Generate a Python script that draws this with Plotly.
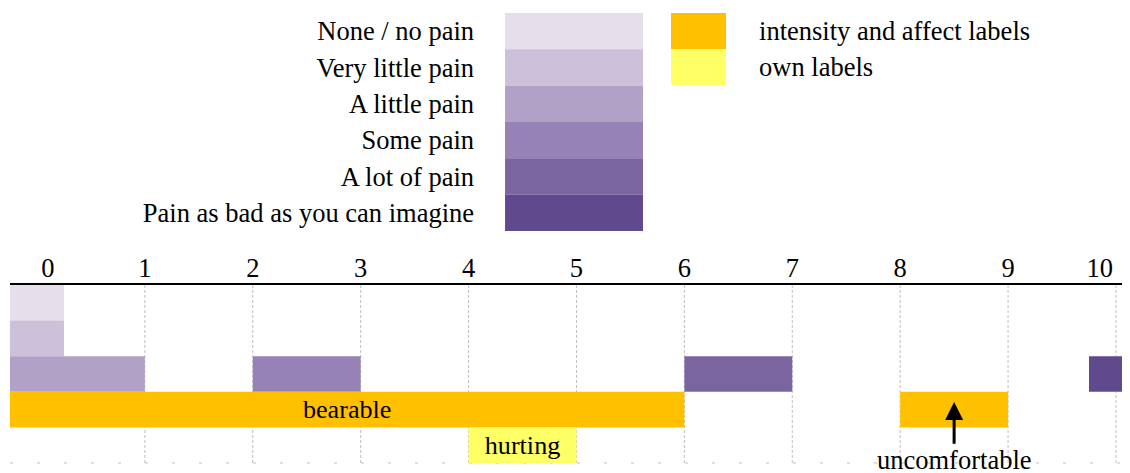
import plotly.graph_objects as go

# ── Style ────────────────────────────────────────────────────────────────────
FONT = 'Liberation Serif, Times New Roman, serif'
FS = 26.5
GRID = '#bfbfbf'

# ── Legend: pain scale ───────────────────────────────────────────────────────
PAIN_LABELS = ['None / no pain', 'Very little pain', 'A little pain',
               'Some pain', 'A lot of pain', 'Pain as bad as you can imagine']
PAIN_COLORS = ['#e5dfec', '#ccc0da', '#b2a1c7', '#9782b5', '#7b65a1', '#604a8d']

# ── Legend: label source ─────────────────────────────────────────────────────
KEY_LABELS = ['intensity and affect labels', 'own labels']
KEY_COLORS = ['#ffc000', '#ffff66']

# ── Scale axis ───────────────────────────────────────────────────────────────
TICK_TEXT = ['0', '1', '2', '3', '4', '5', '6', '7', '8', '9', '10']
TICK_POS = [0.1, 1, 2, 3, 4, 5, 6, 7, 8, 9, 9.85]
GRID_X = [1, 2, 3, 4, 5, 6, 7, 8, 9, 10]

# ── Segments on the 0-10 scale ───────────────────────────────────────────────
SEG_ROW = [0, 1, 2, 2, 2, 2, 3, 3, 4]
SEG_START = [-0.25, -0.25, -0.25, 2, 6, 9.75, -0.25, 8, 4]
SEG_END = [0.25, 0.25, 1, 3, 7, 10.25, 6, 9, 5]
SEG_COLOR = PAIN_COLORS + [KEY_COLORS[0], KEY_COLORS[0], KEY_COLORS[1]]
SEG_TEXT = ['', '', '', '', '', '', 'bearable', '', 'hurting']

# arrow label
ARROW_TEXT = 'uncomfortable'
ARROW_X = 8.5
ARROW_HEAD_Y = 2.79
ARROW_TEXT_Y = 4.42

font = dict(family=FONT, size=FS, color='black')

fig = go.Figure()

fig.add_trace(go.Bar(
    y=SEG_ROW,
    x=[e - s for s, e in zip(SEG_START, SEG_END)],
    base=SEG_START,
    orientation='h', width=1,
    marker=dict(color=SEG_COLOR, line=dict(width=0)),
    text=SEG_TEXT, textposition='inside', insidetextanchor='middle',
    textfont=font, hoverinfo='skip',
))

fig.add_trace(go.Bar(
    y=PAIN_LABELS, x=[1] * len(PAIN_LABELS),
    orientation='h', width=1,
    marker=dict(color=PAIN_COLORS, line=dict(width=0)),
    xaxis='x2', yaxis='y2', hoverinfo='skip',
))

fig.add_trace(go.Bar(
    y=KEY_LABELS, x=[1] * len(KEY_LABELS),
    orientation='h', width=1,
    marker=dict(color=KEY_COLORS, line=dict(width=0)),
    xaxis='x3', yaxis='y3', hoverinfo='skip',
))

shapes = [dict(type='line', xref='x', yref='y domain', x0=v, x1=v, y0=0, y1=1,
               line=dict(color=GRID, width=1, dash='3px,2px'), layer='below')
          for v in GRID_X]
shapes.append(dict(type='line', xref='x domain', yref='y domain',
                   x0=0, x1=1, y0=0, y1=0,
                   line=dict(color=GRID, width=1, dash='3px,24px'), layer='below'))

# page body adds an 8px offset, so the figure is 8px smaller than the window
fig.update_layout(
    width=1122, height=465,
    margin=dict(l=2, r=0, t=0, b=10),
    paper_bgcolor='white', plot_bgcolor='white',
    showlegend=False,
    font=font,
    uniformtext=dict(minsize=FS, mode='show'),
    shapes=shapes,
    annotations=[dict(
        x=ARROW_X, y=ARROW_HEAD_Y, ax=ARROW_X, ay=ARROW_TEXT_Y,
        xref='x', yref='y', axref='x', ayref='y',
        text=ARROW_TEXT, font=font, showarrow=True,
        arrowhead=2, arrowsize=1.2, arrowwidth=3, arrowcolor='black',
    )],
    xaxis=dict(domain=[0, 1], range=[-0.25, 10.13], side='top', anchor='y',
               tickmode='array', tickvals=TICK_POS, ticktext=TICK_TEXT,
               showgrid=False, zeroline=False, ticks='',
               showline=True, linecolor='black', linewidth=2,
               ticklabelstandoff=-5, tickfont=font),
    yaxis=dict(domain=[0, 0.3912], range=[4.5, -0.5], visible=False),
    xaxis2=dict(domain=[0.442, 0.5652], range=[0, 1], anchor='y2', visible=False),
    yaxis2=dict(domain=[0.5099, 0.989], anchor='x2', type='category',
                range=[5.5, -0.5], showgrid=False, zeroline=False, ticks='',
                ticklabelstandoff=30, tickfont=font),
    xaxis3=dict(domain=[0.5902, 0.6393], range=[0, 1], anchor='y3', visible=False),
    yaxis3=dict(domain=[0.8308, 0.989], anchor='x3', type='category', side='right',
                range=[1.5, -0.5], showgrid=False, zeroline=False, ticks='',
                ticklabelstandoff=32, tickfont=font),
)

fig.write_html('out.html')
